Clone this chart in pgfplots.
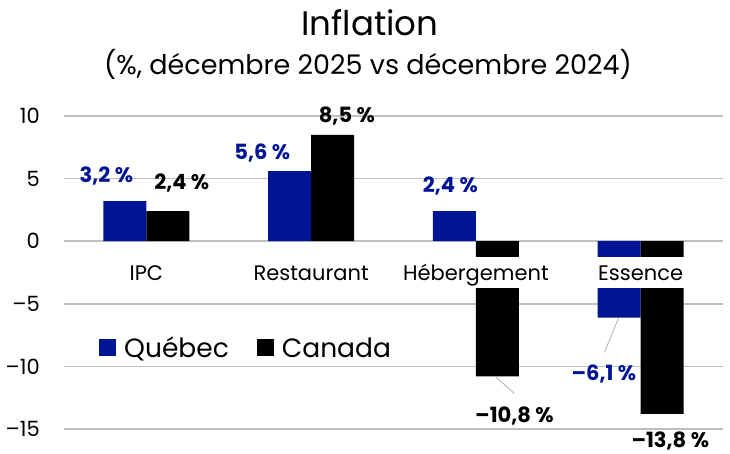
\documentclass[border=0pt]{standalone}
\usepackage{pgfplots}
\pgfplotsset{compat=1.18}
\usepackage{fontspec}
\setmainfont{Poppins}
\definecolor{qblue}{RGB}{0,21,150}
\definecolor{gridgray}{RGB}{191,191,191}
\tikzset{
  lbl/.style={font=\bfseries\fontsize{21}{21}\selectfont, anchor=base, inner sep=0pt},
  cat/.style={fill=white, font=\fontsize{21}{21}\selectfont, anchor=base, text height=23.5pt, text depth=7.5pt, inner ysep=0pt, inner xsep=2pt},
}
\begin{document}
\begin{tikzpicture}
\begin{axis}[
  at={(0pt,0pt)}, anchor=south west,
  scale only axis, width=659pt, height=313pt,
  ymin=-15, ymax=10, xmin=-0.5, xmax=3.5,
  enlargelimits=false,
  ybar=0pt, bar width=43pt,
  ytick={-15,-10,-5,0,5,10},
  yticklabels={–15,–10,–5,0,5,10},
  xtick=\empty,
  ymajorgrids, grid style={gridgray, line width=1.5pt},
  axis line style={draw=none},
  major tick length=0pt,
  yticklabel style={font=\fontsize{21}{21}\selectfont, inner sep=0pt, xshift=-24pt, anchor=east},
  clip=false,
  legend image code/.code={\draw[#1,draw=none] (0pt,-8.5pt) rectangle (17pt,8.5pt);},
  legend style={at={(0.0531,0.2588)}, anchor=west, draw=none, fill=none,
    inner sep=0pt, nodes={inner sep=0pt},
    font=\fontsize{26.5}{26.5}\selectfont,
    /tikz/every odd column/.append style={column sep=8pt},
    /tikz/every even column/.append style={column sep=28pt}},
  legend columns=2,
  legend cell align=left,
]
\addplot[fill=qblue, draw=none] coordinates {(0,3.2) (1,5.6) (2,2.4) (3,-6.1)};
\addplot[fill=black, draw=none] coordinates {(0,2.4) (1,8.5) (2,-10.8) (3,-13.8)};
\legend{Québec, Canada}
\node[cat] at (axis cs:0,-3.16) {IPC};
\node[cat] at (axis cs:1,-3.16) {Restaurant};
\node[cat] at (axis cs:2,-3.16) {Hébergement};
\node[cat] at (axis cs:3,-3.16) {Essence};
\draw[gridgray, line width=1pt] (axis cs:2.124,-10.88) -- (axis cs:2.234,-12.16);
\draw[gridgray, line width=1pt] (axis cs:2.865,-6.16) -- (axis cs:2.780,-8.88);
\node[lbl, text=qblue] at (axis cs:-0.243,4.72) {3,2 \%};
\node[lbl] at (axis cs:0.215,4.16) {2,4 \%};
\node[lbl, text=qblue] at (axis cs:0.704,6.56) {5,6 \%};
\node[lbl] at (axis cs:1.217,9.52) {8,5 \%};
\node[lbl, text=qblue] at (axis cs:1.845,3.92) {2,4 \%};
\node[lbl] at (axis cs:2.234,-14.48) {–10,8 \%};
\node[lbl, text=qblue] at (axis cs:2.777,-11.12) {–6,1 \%};
\node[lbl] at (axis cs:3.180,-16.5) {–13,8 \%};
\end{axis}
\node[anchor=base, font=\fontsize{34}{34}\selectfont] at (306pt,393pt) {Inflation};
\node[anchor=base, font=\fontsize{27}{27}\selectfont] at (304pt,354pt) {(\%, décembre 2025 vs décembre 2024)};
\pgfresetboundingbox
\path[use as bounding box] (-64pt,-25pt) rectangle (666pt,429pt);
\end{tikzpicture}
\end{document}
